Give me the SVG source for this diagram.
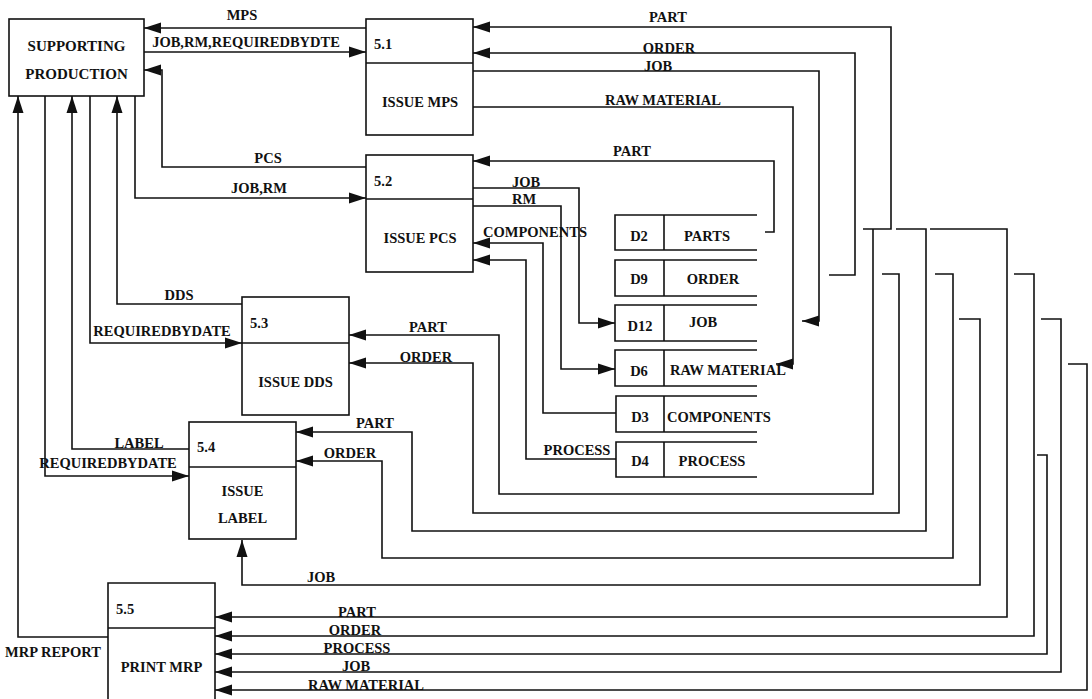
<svg xmlns="http://www.w3.org/2000/svg" width="1092" height="699" viewBox="0 0 1092 699">
<style>
text{font-family:"Liberation Serif","Times New Roman",serif;font-weight:bold;font-size:14.5px;fill:#111}
.c{text-anchor:middle}
.box{fill:#fff;stroke:#111;stroke-width:1.6}
.ln{fill:none;stroke:#111;stroke-width:1.6}
.ar{fill:none;stroke:#111;stroke-width:1.6;marker-end:url(#ah)}
</style>
<defs>
<marker id="ah" markerUnits="userSpaceOnUse" markerWidth="18" markerHeight="12" refX="17" refY="6" orient="auto">
<path d="M0,0.5 L17,6 L0,11.5 z" fill="#111"/>
</marker>
</defs>
<rect width="1092" height="699" fill="#fff"/>

<g id="connectors">
<!-- Supporting production flows -->
<path class="ar" d="M366,28 H144"/>
<path class="ar" d="M144,52 H366"/>
<path class="ar" d="M366,167 H162 V70 H144"/>
<path class="ar" d="M135,96 V198 H366"/>
<path class="ar" d="M242,304 H117 V96"/>
<path class="ar" d="M90,96 V343 H242"/>
<path class="ar" d="M189,449 H72 V96"/>
<path class="ar" d="M45,96 V476 H189"/>
<path class="ar" d="M108,637 H18 V96"/>
<!-- 5.1 -->
<path class="ar" d="M863,229 H891 V27 H473"/>
<path class="ar" d="M829,275 H855 V53 H473"/>
<path class="ar" d="M473,71 H819 V321 H802"/>
<path class="ar" d="M473,107 H793 V364 H776"/>
<!-- 5.2 -->
<path class="ar" d="M765,232 H774 V161 H473"/>
<path class="ar" d="M473,188 H579 V323 H615"/>
<path class="ar" d="M473,206 H561 V369 H615"/>
<path class="ar" d="M616,413 H543 V243 H473"/>
<path class="ar" d="M616,459 H526 V260 H473"/>
<!-- 5.3 -->
<path class="ar" d="M873,229 V494 H499 V335 H349"/>
<path class="ar" d="M882,274 H899 V513 H473 V363 H349"/>
<!-- 5.4 -->
<path class="ar" d="M896,229 H926 V531 H412 V432 H296"/>
<path class="ar" d="M935,274 H953 V558 H382 V461 H296"/>
<path class="ar" d="M959,319 H980 V585 H242 V540"/>
<!-- 5.5 -->
<path class="ar" d="M930,229 H1007 V617 H215"/>
<path class="ar" d="M1014,274 H1034 V636 H215"/>
<path class="ar" d="M1037,455 H1047 V654 H215"/>
<path class="ar" d="M1041,319 H1061 V672 H215"/>
<path class="ar" d="M1068,364 H1087 V690 H215"/>

<!-- connector labels -->
<text class="c" x="242" y="20">MPS</text>
<text class="c" x="246" y="47">JOB,RM,REQUIREDBYDTE</text>
<text class="c" x="268" y="163">PCS</text>
<text class="c" x="259" y="193">JOB,RM</text>
<text class="c" x="179" y="300">DDS</text>
<text class="c" x="162" y="336">REQUIREDBYDATE</text>
<text class="c" x="139" y="448">LABEL</text>
<text class="c" x="108" y="468">REQUIREDBYDATE</text>
<text class="c" x="53" y="657">MRP REPORT</text>
<text class="c" x="668" y="22">PART</text>
<text class="c" x="669" y="53">ORDER</text>
<text class="c" x="658" y="71">JOB</text>
<text class="c" x="663" y="105">RAW MATERIAL</text>
<text class="c" x="632" y="156">PART</text>
<text class="c" x="526" y="187">JOB</text>
<text class="c" x="524" y="204">RM</text>
<text class="c" x="535" y="237">COMPONENTS</text>
<text class="c" x="577" y="455">PROCESS</text>
<text class="c" x="428" y="332">PART</text>
<text class="c" x="426" y="362">ORDER</text>
<text class="c" x="375" y="428">PART</text>
<text class="c" x="350" y="458">ORDER</text>
<text class="c" x="321" y="582">JOB</text>
<text class="c" x="357" y="617">PART</text>
<text class="c" x="355" y="635">ORDER</text>
<text class="c" x="357" y="653">PROCESS</text>
<text class="c" x="356" y="671">JOB</text>
<text class="c" x="366" y="690">RAW MATERIAL</text>
</g>

<g id="supporting-production">
<rect class="box" x="9" y="19" width="135" height="77"/>
<text class="c" x="76.5" y="51" style="font-size:15px">SUPPORTING</text>
<text class="c" x="76.5" y="79" style="font-size:15px">PRODUCTION</text>
</g>

<g id="p5-1">
<rect class="box" x="366" y="19" width="107" height="116"/>
<path class="ln" d="M366,63 H473"/>
<text x="374" y="49">5.1</text>
<text class="c" x="420" y="107">ISSUE MPS</text>
</g>

<g id="p5-2">
<rect class="box" x="366" y="155" width="107" height="117"/>
<path class="ln" d="M366,199 H473"/>
<text x="374" y="186">5.2</text>
<text class="c" x="420" y="243">ISSUE PCS</text>
</g>

<g id="p5-3">
<rect class="box" x="242" y="297" width="107" height="118"/>
<path class="ln" d="M242,343 H349"/>
<text x="250" y="328">5.3</text>
<text class="c" x="295.5" y="387">ISSUE DDS</text>
</g>

<g id="p5-4">
<rect class="box" x="189" y="422" width="107" height="117"/>
<path class="ln" d="M189,467 H296"/>
<text x="197" y="452">5.4</text>
<text class="c" x="242.5" y="496">ISSUE</text>
<text class="c" x="242.5" y="523">LABEL</text>
</g>

<g id="p5-5">
<path class="box" d="M108,699 V583 H215 V699"/>
<path class="ln" d="M108,628 H215"/>
<text x="116" y="614">5.5</text>
<text class="c" x="161.5" y="672">PRINT MRP</text>
</g>

<g id="d2">
<path class="ln" d="M757,215 H615 V250 H757 M664,215 V250"/>
<text class="c" x="639" y="241">D2</text>
<text class="c" x="707" y="241">PARTS</text>
</g>
<g id="d9">
<path class="ln" d="M757,260 H615 V296 H757 M664,260 V296"/>
<text class="c" x="639" y="284">D9</text>
<text class="c" x="713" y="284">ORDER</text>
</g>
<g id="d12">
<path class="ln" d="M757,305 H615 V341 H757 M664,305 V341"/>
<text class="c" x="640" y="331">D12</text>
<text class="c" x="703" y="327">JOB</text>
</g>
<g id="d6">
<path class="ln" d="M757,350 H615 V386 H757 M664,350 V386"/>
<text class="c" x="639" y="376">D6</text>
<text x="670" y="375">RAW MATERIAL</text>
</g>
<g id="d3">
<path class="ln" d="M757,396 H616 V432 H757 M664,396 V432"/>
<text class="c" x="640" y="422">D3</text>
<text x="667" y="422">COMPONENTS</text>
</g>
<g id="d4">
<path class="ln" d="M757,442 H616 V477 H757 M664,442 V477"/>
<text class="c" x="640" y="466">D4</text>
<text class="c" x="712" y="466">PROCESS</text>
</g>
</svg>
